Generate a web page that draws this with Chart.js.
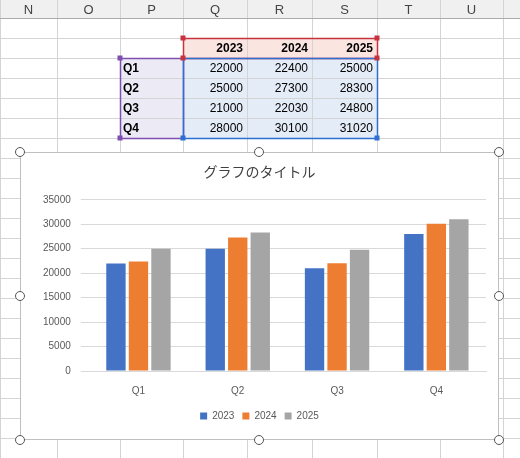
<!DOCTYPE html>
<html><head><meta charset="utf-8">
<script src="https://cdn.jsdelivr.net/npm/chart.js@4/dist/chart.umd.min.js"></script>
<style>
body{margin:0;width:520px;height:458px;overflow:hidden;background:#fff;font-family:"Noto Sans CJK JP","Liberation Sans",sans-serif;}
#grid{position:absolute;left:0;top:0;}
.c{position:absolute;font:bold 12px "Liberation Sans",Arial,sans-serif;color:#000;}
#box{position:absolute;left:20px;top:152px;width:479px;height:288px;background:#fff;border:1px solid #bfbfbf;box-sizing:border-box;}
.h{position:absolute;width:8px;height:8px;border:1px solid #555;border-radius:50%;background:#fff;}
</style></head><body>
<canvas id="grid" width="520" height="458"></canvas>
<div id="cells"></div>
<div id="box"><canvas id="ch" width="477" height="286"></canvas></div>
<div id="handles"></div>
<script>
const categories=["Q1","Q2","Q3","Q4"];
const years=["2023","2024","2025"];
const v2023=[22000,25000,21000,28000];
const v2024=[22400,27300,22030,30100];
const v2025=[25000,28300,24800,31020];
const colLetters=["N","O","P","Q","R","S","T","U"];
const colX=[0,57,120,183,247,312,377,440,503];
const rowY=[0,18,38,58,78,98,118,138,158];
const g=document.getElementById('grid').getContext('2d');
g.fillStyle='#f0f0f0';g.fillRect(0,0,520,18);
g.fillStyle='#fbe5e1';g.fillRect(183,38,194,20);
g.fillStyle='#eceaf5';g.fillRect(120,58,63,80);
g.fillStyle='#e4ecf7';g.fillRect(183,58,194,80);
g.strokeStyle='#d4d4d4';g.lineWidth=1;
for(const x of colX){g.beginPath();g.moveTo(x+.5,0);g.lineTo(x+.5,458);g.stroke();}
for(let y=18;y<458;y+=20){g.beginPath();g.moveTo(0,y+.5);g.lineTo(520,y+.5);g.stroke();}
g.strokeStyle='#ababab';g.beginPath();g.moveTo(0,18.5);g.lineTo(520,18.5);g.stroke();
g.font='13px "Liberation Sans",Arial';g.fillStyle='#444';g.textAlign='center';g.textBaseline='middle';
colLetters.forEach((l,i)=>g.fillText(l,(colX[i]+colX[i+1])/2,10));
g.lineWidth=1.5;
g.strokeStyle='#c8323c';g.strokeRect(183.5,38.5,194,20);
g.strokeStyle='#7e4fb0';g.strokeRect(120.5,58.5,63,80);
g.strokeStyle='#2e6fd1';g.strokeRect(183.5,58.5,194,80);
const sq=(x,y,c)=>{g.fillStyle=c;g.fillRect(x-2.5,y-2.5,5,5);};
sq(183,38,'#c8323c');sq(377,38,'#c8323c');sq(183,58,'#c8323c');sq(377,58,'#c8323c');
sq(120,58,'#7e4fb0');sq(120,138,'#7e4fb0');sq(183,138,'#2e6fd1');sq(377,138,'#2e6fd1');
let html='';
years.forEach((y,i)=>html+=`<div class="c" style="left:${colX[3+i]}px;width:${colX[4+i]-colX[3+i]-4}px;text-align:right;top:${41}px">${y}</div>`);
const vals=[v2023,v2024,v2025];
categories.forEach((c,r)=>{
 html+=`<div class="c" style="left:123px;top:${rowY[3+r]+3}px">${c}</div>`;
 vals.forEach((s,i)=>html+=`<div class="c" style="font-weight:normal;left:${colX[3+i]}px;width:${colX[4+i]-colX[3+i]-4}px;text-align:right;top:${rowY[3+r]+3}px">${s[r]}</div>`);
});
document.getElementById('cells').innerHTML=html;
let hh='';
[[20,152],[259,152],[499,152],[20,296],[499,296],[20,440],[259,440],[499,440]].forEach(([x,y])=>hh+=`<div class="h" style="left:${x-5}px;top:${y-5}px"></div>`);
document.getElementById('handles').innerHTML=hh;
new Chart(document.getElementById('ch'),{type:'bar',
data:{labels:categories,datasets:[
{label:years[0],data:v2023,backgroundColor:'#4472C4'},
{label:years[1],data:v2024,backgroundColor:'#ED7D31'},
{label:years[2],data:v2025,backgroundColor:'#A5A5A5'}]},
options:{responsive:false,animation:false,
layout:{padding:{left:12,right:12,top:6,bottom:8}},
datasets:{bar:{categoryPercentage:0.68,barPercentage:0.86}},
plugins:{title:{display:true,text:'グラフのタイトル',color:'#404040',font:{size:14,family:'"Noto Sans CJK JP"',weight:'normal'},padding:{top:4,bottom:20}},
legend:{position:'bottom',labels:{boxWidth:7,boxHeight:7,color:'#595959',font:{size:10},padding:8}},tooltip:{enabled:false}},
scales:{x:{grid:{display:false},border:{color:'#d9d9d9'},ticks:{color:'#595959',font:{size:10},padding:6}},
y:{min:0,max:35000,ticks:{stepSize:5000,color:'#595959',font:{size:10},padding:10,callback:v=>String(v)},grid:{color:'#d9d9d9'},border:{display:false}}}}});
</script>
</body></html>
